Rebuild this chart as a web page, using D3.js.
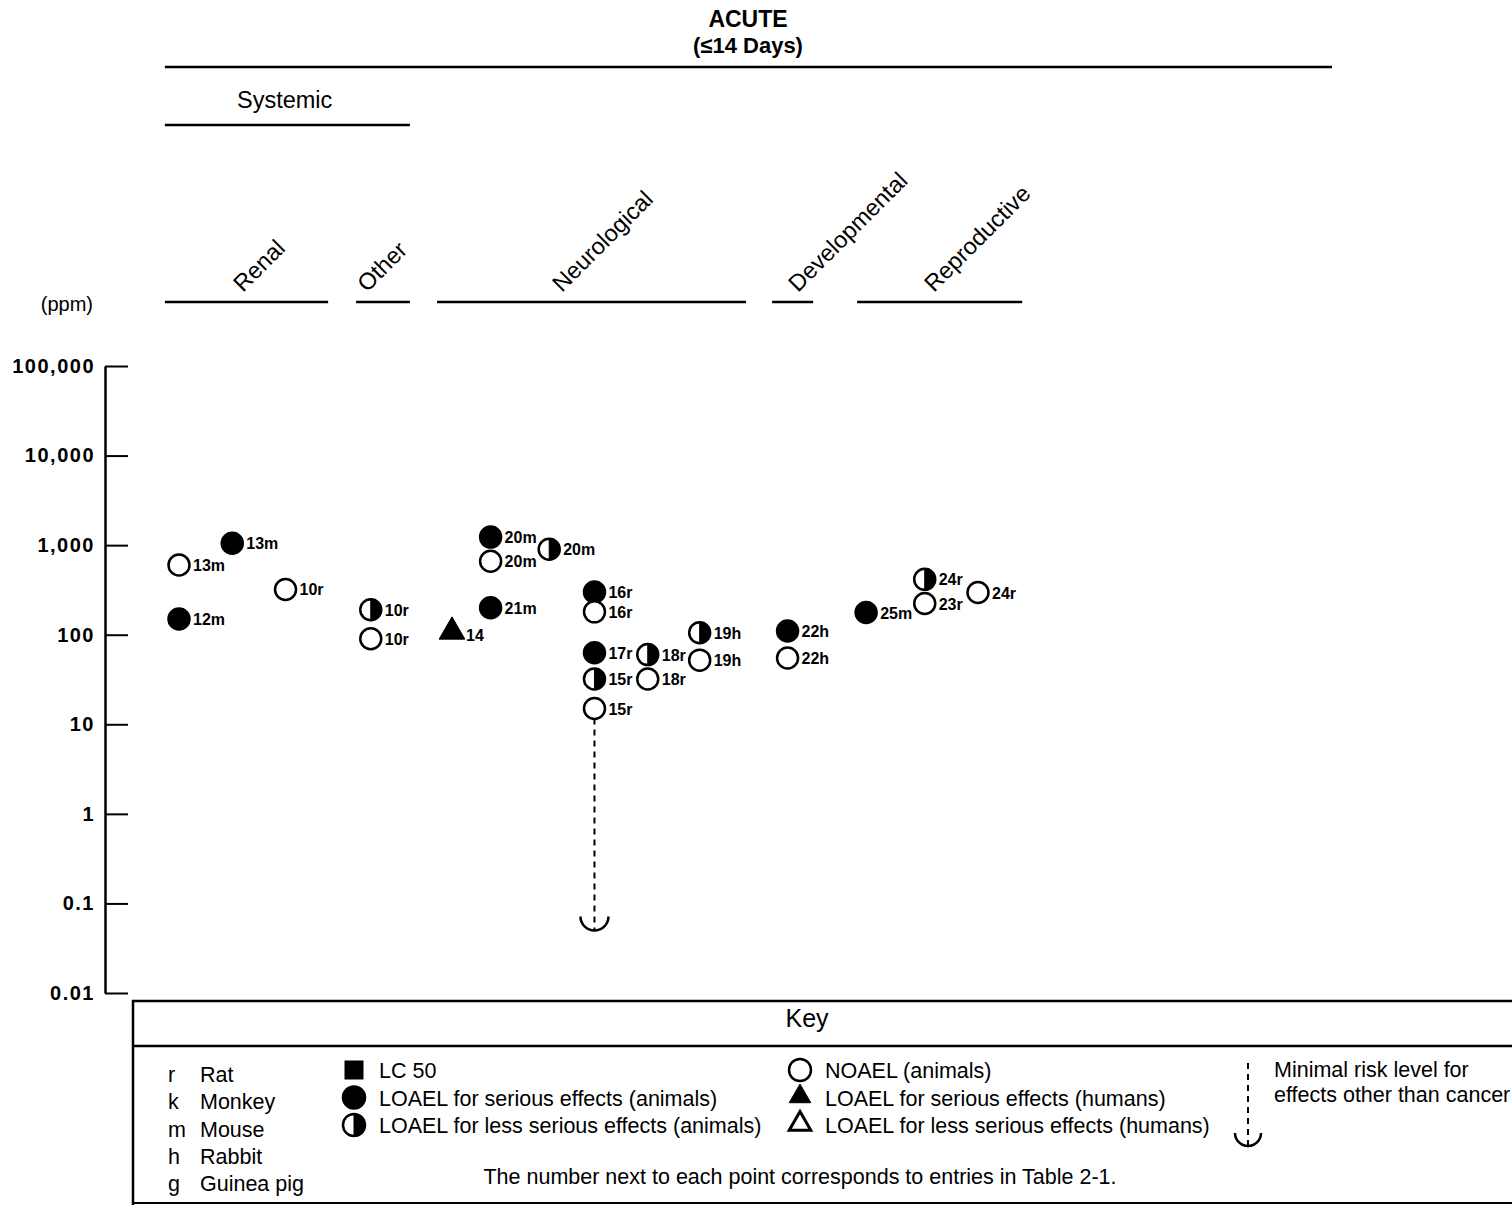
<!DOCTYPE html>
<html>
<head>
<meta charset="utf-8">
<script src="https://cdn.jsdelivr.net/npm/d3@7"></script>
<style>
  body { margin: 0; background: #fff; }
  svg { display: block; font-family: "Liberation Sans", Arial, sans-serif; }
</style>
</head>
<body>
<svg id="chart" width="1512" height="1205"></svg>
<script>
// endpoint columns across the top
const categories = ["Renal", "Other", "Neurological", "Developmental", "Reproductive"];

// one entry per plotted study (label = table entry + species)
const pointLabels = ["12m", "13m", "13m", "10r", "10r", "10r", "14", "20m", "20m", "20m", "21m",
  "16r", "16r", "17r", "15r", "15r", "18r", "18r", "19h", "19h", "22h", "22h", "25m", "24r", "23r", "24r"];
const pointValues = [150, 600, 1050, 320, 190, 90, 100, 1230, 660, 900, 200,
  300, 180, 63, 32, 15, 60, 32, 105, 52, 110, 55, 177, 415, 223, 296];
const pointTypes = ["serious", "noael", "serious", "noael", "less", "noael", "human", "serious", "noael", "less", "serious",
  "serious", "noael", "serious", "less", "noael", "less", "noael", "less", "noael", "serious", "noael", "serious", "less", "noael", "noael"];
// column slot of each point along the x axis
const pointSlots = [0, 0, 2, 4, 7.2, 7.2, 10.25, 11.7, 11.7, 13.9, 11.7,
  15.6, 15.6, 15.6, 15.6, 15.6, 17.6, 17.6, 19.55, 19.55, 22.85, 22.85, 25.8, 28, 28, 30];

const tickValues = [0.01, 0.1, 1, 10, 100, 1000, 10000, 100000];
const tickLabels = ["0.01", "0.1", "1", "10", "100", "1,000", "10,000", "100,000"];

// minimal risk level, hangs under 15r
const mrlValue = 0.05;
const mrlSlot = 15.6;
const mrlFrom = 15;

const speciesCodes = ["r", "k", "m", "h", "g"];
const speciesNames = ["Rat", "Monkey", "Mouse", "Rabbit", "Guinea pig"];

// header spans in slot units
const catStart = [-0.53, 6.65, 9.69, 22.27, 25.46];
const catEnd = [5.6, 8.67, 21.29, 23.81, 31.66];

const svg = d3.select("#chart");
svg.append("rect").attr("width", 1512).attr("height", 1205).attr("fill", "#fff");

const x = d3.scaleLinear().domain([0, 30]).range([179, 978]);
const y = d3.scaleLog().domain([0.01, 100000]).range([993, 366]);

// ---- headers ----
svg.append("text").attr("x", 748).attr("y", 27).attr("text-anchor", "middle")
  .attr("font-size", 23).attr("font-weight", "bold").text("ACUTE");
svg.append("text").attr("x", 748).attr("y", 53).attr("text-anchor", "middle")
  .attr("font-size", 22).attr("font-weight", "bold").text("(\u226414 Days)");
svg.append("line").attr("x1", x(-0.53)).attr("x2", 1332).attr("y1", 67).attr("y2", 67)
  .attr("stroke", "#000").attr("stroke-width", 2.5);

svg.append("text").attr("x", 237).attr("y", 108).attr("font-size", 23.5).text("Systemic");
svg.append("line").attr("x1", x(-0.53)).attr("x2", x(8.67)).attr("y1", 125).attr("y2", 125)
  .attr("stroke", "#000").attr("stroke-width", 2.5);

const catG = svg.append("g");
categories.forEach((c, i) => {
  catG.append("line").attr("x1", x(catStart[i])).attr("x2", x(catEnd[i]))
    .attr("y1", 302).attr("y2", 302).attr("stroke", "#000").attr("stroke-width", 2.5);
});
const catLabelX = [243, 367, 562, 798, 934];
categories.forEach((c, i) => {
  catG.append("text")
    .attr("transform", `translate(${catLabelX[i]},293) rotate(-45)`)
    .attr("font-size", 23.5).text(c);
});

svg.append("text").attr("x", 93).attr("y", 311).attr("text-anchor", "end")
  .attr("font-size", 20).text("(ppm)");

// ---- y axis ----
const axisG = svg.append("g").attr("transform", "translate(105,0)")
  .call(d3.axisLeft(y).tickValues(tickValues).tickFormat((d, i) => tickLabels[i])
    .tickSizeInner(-23).tickSizeOuter(0).tickPadding(10));
axisG.select(".domain").attr("stroke-width", 2.5);
axisG.selectAll(".tick line").attr("stroke-width", 2);
axisG.selectAll(".tick text").attr("font-size", 20).attr("font-weight", "bold")
  .attr("letter-spacing", 1.5).attr("font-family", "'Liberation Sans', Arial, sans-serif")
  .attr("fill", "#000");

// ---- marks ----
function drawMark(g, type, cx, cy, r) {
  if (type === "human" || type === "humanLess") {
    const s = d3.symbol(d3.symbolTriangle).size(r * r * 2.6);
    g.append("path").attr("d", s()).attr("transform", `translate(${cx},${cy})`)
      .attr("fill", type === "human" ? "#000" : "#fff")
      .attr("stroke", "#000").attr("stroke-width", type === "human" ? 1 : 3);
    return;
  }
  if (type === "lc50") {
    g.append("rect").attr("x", cx - r).attr("y", cy - r).attr("width", 2 * r).attr("height", 2 * r)
      .attr("fill", "#000");
    return;
  }
  g.append("circle").attr("cx", cx).attr("cy", cy).attr("r", r)
    .attr("fill", type === "serious" ? "#000" : "#fff")
    .attr("stroke", "#000").attr("stroke-width", 2.5);
  if (type === "less") {
    g.append("path")
      .attr("d", `M${cx},${cy - r}A${r},${r} 0 0 1 ${cx},${cy + r}Z`)
      .attr("fill", "#000").attr("stroke", "#000").attr("stroke-width", 1);
  }
}

function drawMrl(g, cx, y0, y1, r) {
  g.append("line").attr("x1", cx).attr("x2", cx).attr("y1", y0).attr("y2", y1)
    .attr("stroke", "#000").attr("stroke-width", 2).attr("stroke-dasharray", "6,5");
  g.append("path")
    .attr("d", `M${cx - r},${y1 - r}A${r},${r} 0 0 0 ${cx + r},${y1 - r}`)
    .attr("fill", "none").attr("stroke", "#000").attr("stroke-width", 2.5);
}

const plotG = svg.append("g");
drawMrl(plotG, x(mrlSlot), y(mrlFrom) + 10, y(mrlValue), 14);

pointLabels.forEach((lab, i) => {
  const cx = x(pointSlots[i]);
  const cy = y(pointValues[i]);
  const type = pointTypes[i];
  drawMark(plotG, type, cx, type === "human" ? cy - 3 : cy, 10.5);
  plotG.append("text").attr("x", cx + 14).attr("y", cy + 6)
    .attr("font-size", 16).attr("font-weight", "bold").text(lab);
});

// ---- key ----
const keyG = svg.append("g");
keyG.append("path").attr("d", "M1512,1001H133V1205").attr("fill", "none")
  .attr("stroke", "#000").attr("stroke-width", 2.5);
keyG.append("line").attr("x1", 133).attr("x2", 1512).attr("y1", 1046).attr("y2", 1046)
  .attr("stroke", "#000").attr("stroke-width", 2.5);
keyG.append("line").attr("x1", 133).attr("x2", 1512).attr("y1", 1203).attr("y2", 1203)
  .attr("stroke", "#000").attr("stroke-width", 2);
keyG.append("text").attr("x", 807).attr("y", 1027).attr("text-anchor", "middle")
  .attr("font-size", 25).text("Key");

speciesCodes.forEach((code, i) => {
  const yy = 1082 + i * 27.3;
  keyG.append("text").attr("x", 168).attr("y", yy).attr("font-size", 21.5).text(code);
  keyG.append("text").attr("x", 200).attr("y", yy).attr("font-size", 21.5).text(speciesNames[i]);
});

const legendTypes = ["lc50", "serious", "less", "noael", "human", "humanLess"];
const legendTexts = ["LC 50", "LOAEL for serious effects (animals)", "LOAEL for less serious effects (animals)",
  "NOAEL (animals)", "LOAEL for serious effects (humans)", "LOAEL for less serious effects (humans)"];
legendTypes.forEach((t, i) => {
  const col = Math.floor(i / 3);
  const row = i % 3;
  const sx = col === 0 ? 354 : 800;
  const sy = 1070 + row * 27.5;
  const isTri = t === "human" || t === "humanLess";
  const r = t === "lc50" ? 9.5 : (isTri ? 8.8 : 11);
  drawMark(keyG, t, sx, isTri ? sy - 1 : sy, r);
  keyG.append("text").attr("x", sx + 25).attr("y", sy + 8).attr("font-size", 21.5).text(legendTexts[i]);
});

drawMrl(keyG, 1248, 1063, 1146, 13);
keyG.append("text").attr("x", 1274).attr("y", 1077).attr("font-size", 21.5).text("Minimal risk level for");
keyG.append("text").attr("x", 1274).attr("y", 1102).attr("font-size", 21.5).text("effects other than cancer");

keyG.append("text").attr("x", 800).attr("y", 1184).attr("text-anchor", "middle")
  .attr("font-size", 21.5).text("The number next to each point corresponds to entries in Table 2-1.");
</script>
</body>
</html>
